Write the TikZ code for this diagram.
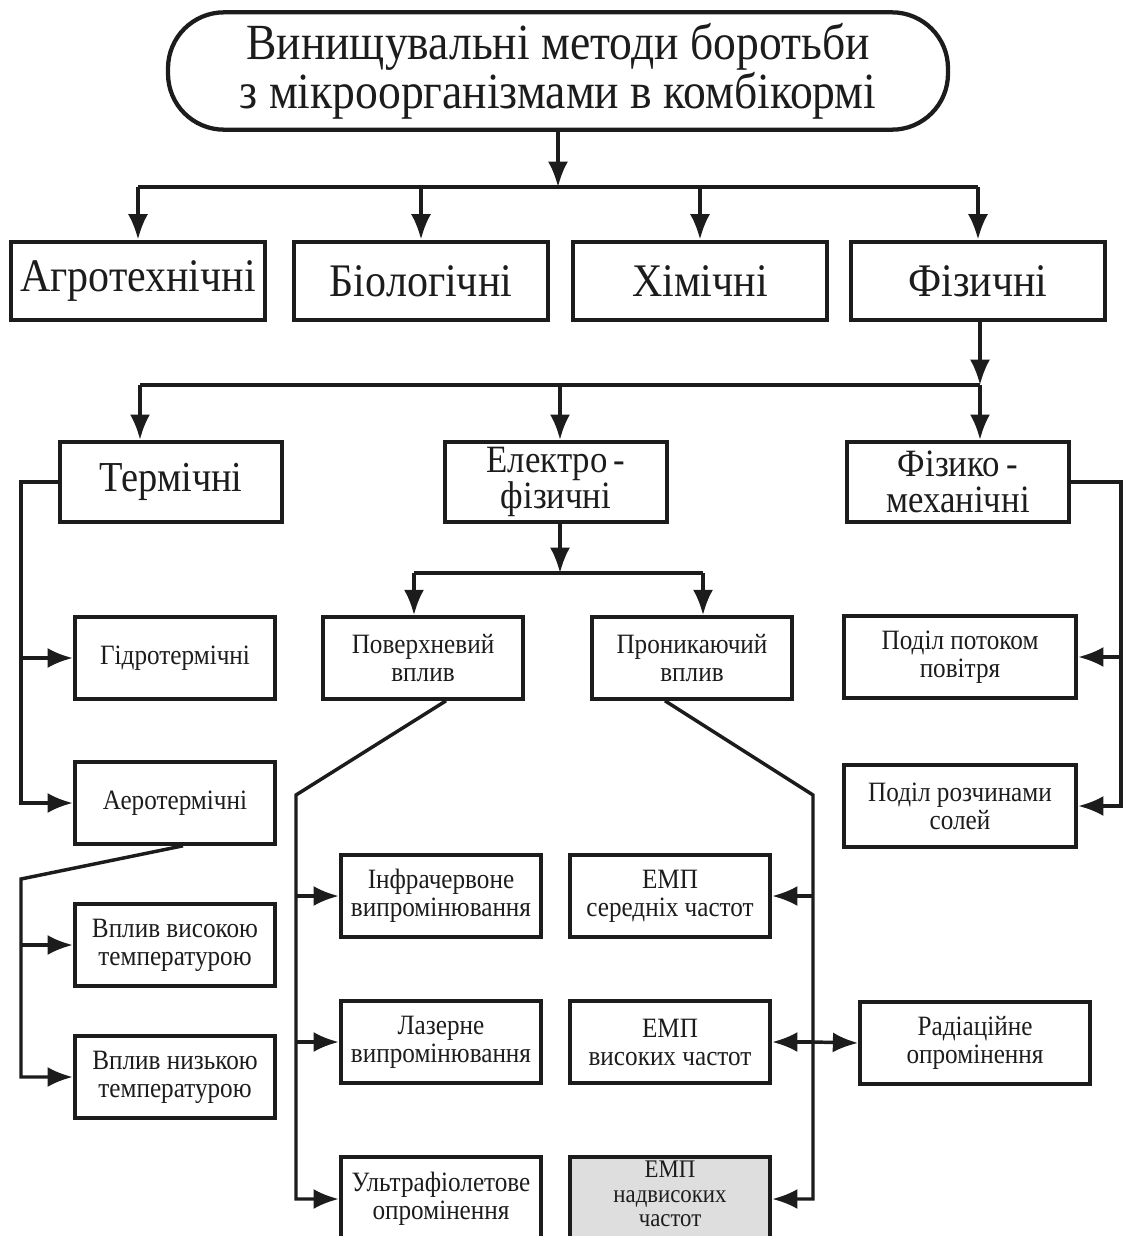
\documentclass[tikz,border=0pt]{standalone}
\usepackage{fontspec}
\setmainfont{Liberation Serif}[FakeStretch=0.9]
\usetikzlibrary{arrows.meta,positioning,calc}
\definecolor{Ink}{RGB}{28,28,28}
\definecolor{BoxGray}{RGB}{222,222,222}

\begin{document}
\begin{tikzpicture}[x=0.75pt,y=-0.75pt,>={Latex[length=19pt,width=15pt]},
	box/.style={draw=Ink,line width=3.2pt,align=center,inner sep=0pt,text=Ink},
	headbox/.style={box,rounded corners=42pt,minimum width=585pt,minimum height=88pt,font=\fontsize{38}{33}\selectfont},
	kindbox/.style={box,minimum width=190pt,minimum height=59pt,font=\fontsize{35}{30}\selectfont},
	groupbox/.style={box,minimum width=167pt,minimum height=60pt,font=\fontsize{29}{27.5}\selectfont},
	itembox/.style={box,minimum width=150pt,minimum height=61pt,font=\fontsize{21}{21}\selectfont},
	link/.style={draw=Ink,line width=2.6pt}]
			\useasboundingbox (0,0) rectangle (1126,1236);
			
			\node[headbox] (Top) at (558,71) {Винищувальні методи боротьби\\з мікроорганізмами в комбікормі};
			
			\node[kindbox] (Agro) at (138,281) {Агротехнічні};
			\node[kindbox] (Bio) at (421,281) {Біологічні};
			\node[kindbox] (Chem) at (700,281) {Хімічні};
			\node[kindbox] (Phys) at (978,281) {Фізичні};
			
			\node[groupbox,font=\fontsize{32}{27}\selectfont] (Therm) at (171,482) {Термічні};
			\node[groupbox] (Elec) at (556,482) {Електро\,-\\фізичні};
			\node[groupbox] (Mech) at (958,482) {Фізико\,-\\механічні};
			
			\node[itembox] (Hydro) at (175,658) {Гідротермічні};
			\node[itembox] (Aero) at (175,803) {Аеротермічні};
			\node[itembox] (High) at (175,945) {Вплив високою\\температурою};
			\node[itembox] (Low) at (175,1077) {Вплив низькою\\температурою};
			
			\node[itembox] (Surf) at (423,658) {Поверхневий\\вплив};
			\node[itembox] (Pen) at (692,658) {Проникаючий\\вплив};
			
			\node[itembox] (IR) at (441,896) {Інфрачервоне\\випромінювання};
			\node[itembox] (Laser) at (441,1042) {Лазерне\\випромінювання};
			\node[itembox,minimum height=63pt] (UV) at (441,1199) {Ультрафіолетове\\опромінення};
			
			\node[itembox] (Mid) at (670,896) {ЕМП\\середніх частот};
			\node[itembox] (Ultra) at (670,1042) {ЕМП\\високих частот};
			\node[itembox,minimum height=63pt,fill=BoxGray,font=\fontsize{19}{18.5}\selectfont] (Super) at (670,1199) {ЕМП\\надвисоких\\частот\rule[-7.5pt]{0pt}{0pt}};
			\node[itembox,minimum width=172pt,minimum height=62pt] (Rad) at (975,1043) {Радіаційне\\опромінення};
			
			\node[itembox,minimum width=174pt] (Air) at (960,657) {Поділ потоком\\повітря};
			\node[itembox,minimum width=174pt] (Salt) at (960,806) {Поділ розчинами\\солей};
			
			\coordinate (J) at (558,187);
			\coordinate (K1) at (140,385);
			\coordinate (K2) at (560,385);
			\coordinate (K3) at (980,385);
			\coordinate (E1) at (414,573);
			\coordinate (E2) at (703,573);
			\coordinate (T0) at (21,482);
			\coordinate (T1) at (21,879);
			\coordinate (S0) at (296,795);
			\coordinate (P0) at (813,795);
			\coordinate (M0) at (1121,482);
			
			\draw[->,link] (Top.south) -- (J);
			\draw[link] (J -| Agro.north) -- (J -| Phys.north);
			\foreach \n in {Agro,Bio,Chem,Phys}
				\draw[->,link] (J -| \n.north) -- (\n.north);
			
			\draw[->,link] (Phys.south -| K3) -- (K3);
			\draw[link] (K1) -- (K3);
			\draw[->,link] (K1) -- (K1 |- Therm.north);
			\draw[->,link] (K2) -- (K2 |- Elec.north);
			\draw[->,link] (K3) -- (K3 |- Mech.north);
			
			\draw[->,link] (Therm.west) -- (T0) |- (Aero.west);
			\draw[->,link] (T0 |- Hydro.west) -- (Hydro.west);
			\draw[->,link] ($(Aero.south)+(8,0)$) -- (T1) |- (Low.west);
			\draw[->,link] (T1 |- High.west) -- (High.west);
			
			\draw[->,link] (Elec.south -| K2) -- (K2 |- E1);
			\draw[link] (E1) -- (E2);
			\draw[->,link] (E1) -- (E1 |- Surf.north);
			\draw[->,link] (E2) -- (E2 |- Pen.north);
			
			\draw[->,link] ($(Surf.south)+(23,0)$) -- (S0) |- (UV.west);
			\draw[->,link] (S0 |- IR.west) -- (IR.west);
			\draw[->,link] (S0 |- Laser.west) -- (Laser.west);
			
			\draw[->,link] ($(Pen.south)+(-27,0)$) -- (P0) |- (Super.east);
			\draw[->,link] (P0 |- Mid.east) -- (Mid.east);
			\draw[->,link] (P0 |- Ultra.east) -- (Ultra.east);
			\draw[->,link] (P0 |- Ultra.east) -- (Rad.west);
			
			\draw[->,link] (Mech.east) -- (M0) |- (Salt.east);
			\draw[->,link] (M0 |- Air.east) -- (Air.east);
		\end{tikzpicture}
\end{document}
